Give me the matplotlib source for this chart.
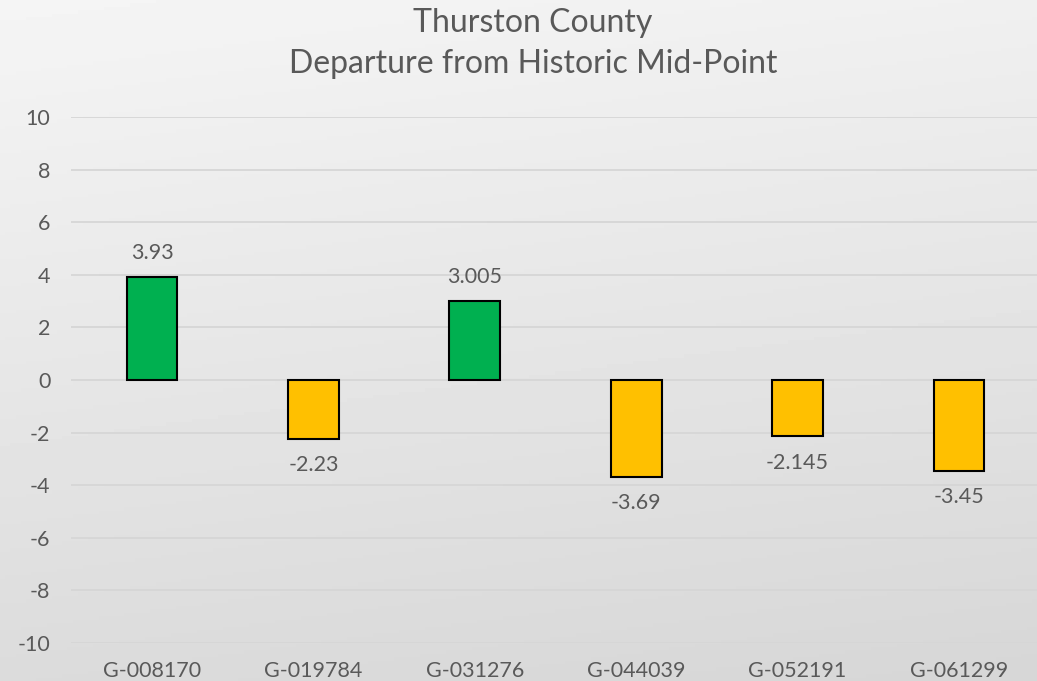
import numpy as np
import matplotlib.pyplot as plt

# данные
wells = ['G-008170', 'G-019784', 'G-031276', 'G-044039', 'G-052191', 'G-061299']
departure = [3.93, -2.23, 3.005, -3.69, -2.145, -3.45]
labels = ['3.93', '-2.23', '3.005', '-3.69', '-2.145', '-3.45']

plt.rcParams['font.family'] = ['Lato', 'DejaVu Sans']
plt.rcParams['axes.unicode_minus'] = False
text_color = '#595959'

fig = plt.figure(figsize=(10.37, 6.81), dpi=100)

# фон с градиентом
bg = fig.add_axes([0, 0, 1, 1], zorder=-10)
yy, xx = np.mgrid[0:1:200j, 0:1:200j]
grad = 0.96 - 0.10 * yy - 0.02 * xx
bg.imshow(grad, cmap='gray', vmin=0, vmax=1, aspect='auto', extent=[0, 1, 0, 1])
bg.axis('off')

ax = fig.add_axes([71.3 / 1037, 1 - 643 / 681, (1039.7 - 71.3) / 1037, (643 - 117) / 681])
ax.patch.set_alpha(0)

x = np.arange(len(wells))
colors = ['#00b050' if v > 0 else '#ffc000' for v in departure]
ax.bar(x, departure, width=0.315, color=colors, edgecolor='black', linewidth=1.5, zorder=3)

# подписи значений
for xi, v, lab in zip(x, departure, labels):
    dy = 17.3 if v > 0 else -19
    ax.annotate(lab, (xi, v), xytext=(0, dy), textcoords='offset points',
                ha='center', va='center', fontsize=15.5, color=text_color)

ax.set_xlim(-0.5, 5.5)
ax.set_ylim(-10, 10)
ax.set_yticks(range(-10, 11, 2))
ax.set_xticks(x)
ax.set_xticklabels(wells)
ax.grid(axis='y', color='#d6d6d6', linewidth=1.3, zorder=0)
ax.tick_params(axis='both', length=0, labelsize=15.5, labelcolor=text_color)
ax.tick_params(axis='y', pad=15)
ax.tick_params(axis='x', pad=13)
for s in ax.spines.values():
    s.set_visible(False)

fig.text(0.514, 1 - 22.5 / 681, 'Thurston County', ha='center', va='center', fontsize=23, color=text_color)
fig.text(0.514, 1 - 64 / 681, 'Departure from Historic Mid-Point', ha='center', va='center', fontsize=23, color=text_color)

fig.savefig('out.png', dpi=100)
